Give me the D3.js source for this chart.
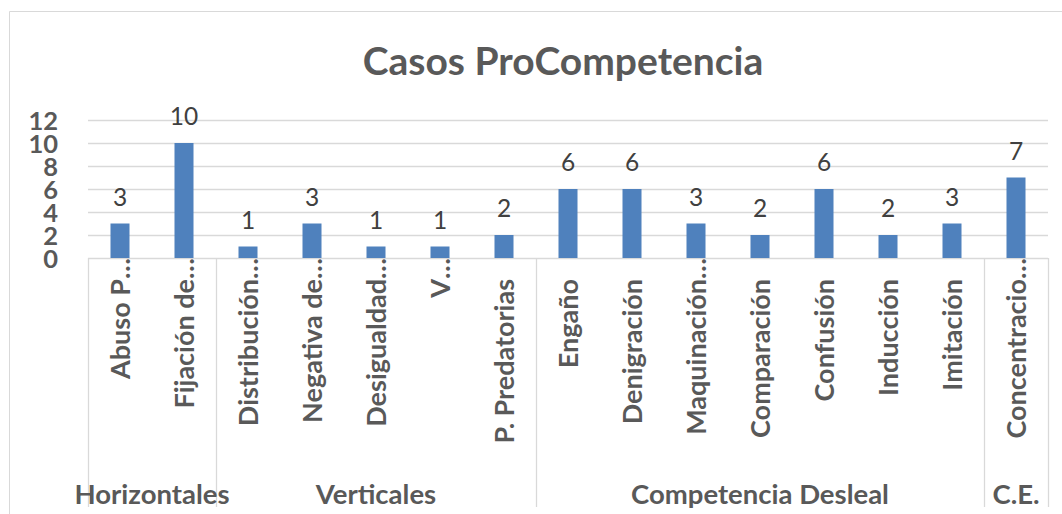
<!DOCTYPE html>
<html>
<head>
<meta charset="utf-8">
<script src="https://cdn.jsdelivr.net/npm/d3@7"></script>
<style>
  body { margin: 0; background: #fff; }
  svg { display: block; font-family: Lato, "Open Sans", sans-serif; }
</style>
</head>
<body>
<div id="chartContainer"></div>
<script>
var title      = "Casos ProCompetencia";
var categories = ["Abuso P…", "Fijación de…", "Distribución…", "Negativa de…", "Desigualdad…", "V…",
                  "P. Predatorias", "Engaño", "Denigración", "Maquinación…", "Comparación",
                  "Confusión", "Inducción", "Imitación", "Concentracio…"];
var values     = [3, 10, 1, 3, 1, 1, 2, 6, 6, 3, 2, 6, 2, 3, 7];
var groups     = ["Horizontales", "Verticales", "Competencia Desleal", "C.E."];
var groupSizes = [2, 5, 7, 1];
var yTicks     = [0, 2, 4, 6, 8, 10, 12];

var width = 1062, height = 514;
var margin = {top: 120, right: 14, bottom: 256, left: 88};

var svg = d3.select("#chartContainer")
  .append("svg")
    .attr("width", width)
    .attr("height", height);

// chart frame (only top and left edges show in the picture)
svg.append("path")
  .attr("d", "M9.5," + height + "V11.5H" + width)
  .attr("fill", "none")
  .attr("stroke", "#d9d9d9");

var x = d3.scaleBand()
  .domain(d3.range(categories.length))
  .range([margin.left, width - margin.right])
  .paddingInner(0.703)
  .paddingOuter(0.3515);

var y = d3.scaleLinear()
  .domain([0, 12])
  .range([height - margin.bottom, margin.top]);

// gridlines
svg.append("g")
  .selectAll("line")
  .data(yTicks)
  .join("line")
    .attr("x1", margin.left)
    .attr("x2", width - margin.right)
    .attr("y1", d => Math.round(y(d)) + 0.5)
    .attr("y2", d => Math.round(y(d)) + 0.5)
    .attr("stroke", "#d9d9d9")
    .attr("stroke-width", 1.3);

// y axis labels
svg.append("g")
  .attr("transform", "translate(58,0)")
  .call(d3.axisLeft(y).tickValues(yTicks).tickSize(0).tickPadding(0))
  .call(g => g.select(".domain").remove())
  .selectAll("text")
    .attr("font-family", "Lato, sans-serif")
    .attr("font-size", 25.5)
    .attr("font-weight", "bold")
    .attr("fill", "#595959")
    .attr("dy", "0.36em");

// bars
svg.append("g")
  .selectAll("rect")
  .data(values)
  .join("rect")
    .attr("x", (d, i) => x(i))
    .attr("y", d => y(d))
    .attr("width", x.bandwidth())
    .attr("height", d => y(0) - y(d))
    .attr("fill", "#4f81bd");

// data labels
svg.append("g")
  .selectAll("text")
  .data(values)
  .join("text")
    .attr("x", (d, i) => x(i) + x.bandwidth() / 2)
    .attr("y", d => y(d) - 18)
    .attr("text-anchor", "middle")
    .attr("font-size", 24.5)
    .attr("fill", "#404040")
    .text(d => d);

// category labels, rotated; a trailing ellipsis runs up past the label's anchor
var labelTop = y(0) + 21;
var catG = svg.append("g")
  .attr("font-size", 27)
  .attr("font-weight", "bold")
  .attr("fill", "#595959");

catG.selectAll("text.main")
  .data(categories)
  .join("text")
    .attr("class", "main")
    .attr("transform", (d, i) => "translate(" + (x(i) + x.bandwidth() / 2) + "," + labelTop + ") rotate(-90)")
    .attr("dy", "0.36em")
    .attr("text-anchor", "end")
    .text(d => d.replace("…", ""));

catG.selectAll("text.ell")
  .data(categories.map((d, i) => ({d: d, i: i})).filter(c => c.d.endsWith("…")))
  .join("text")
    .attr("class", "ell")
    .attr("transform", c => "translate(" + (x(c.i) + x.bandwidth() / 2) + "," + labelTop + ") rotate(-90)")
    .attr("dy", "0.36em")
    .attr("text-anchor", "start")
    .text("…");

// group separators and labels
var starts = [0];
groupSizes.forEach((n, i) => starts.push(starts[i] + n));
var step = x.step();
var bx = k => margin.left + k * step;

svg.append("g")
  .selectAll("line")
  .data(starts)
  .join("line")
    .attr("x1", k => Math.round(bx(k)) + 0.5)
    .attr("x2", k => Math.round(bx(k)) + 0.5)
    .attr("y1", y(0))
    .attr("y2", 507)
    .attr("stroke", "#d9d9d9")
    .attr("stroke-width", 1.3);

svg.append("g")
  .selectAll("text")
  .data(groups)
  .join("text")
    .attr("x", (d, i) => (bx(starts[i]) + bx(starts[i + 1])) / 2)
    .attr("y", 504)
    .attr("text-anchor", "middle")
    .attr("font-size", 27.5)
    .attr("font-weight", "bold")
    .attr("fill", "#595959")
    .text(d => d);

// title
svg.append("text")
  .attr("x", 563)
  .attr("y", 75)
  .attr("text-anchor", "middle")
  .attr("font-size", 39)
  .attr("font-weight", "bold")
  .attr("fill", "#595959")
  .text(title);
</script>
</body>
</html>
